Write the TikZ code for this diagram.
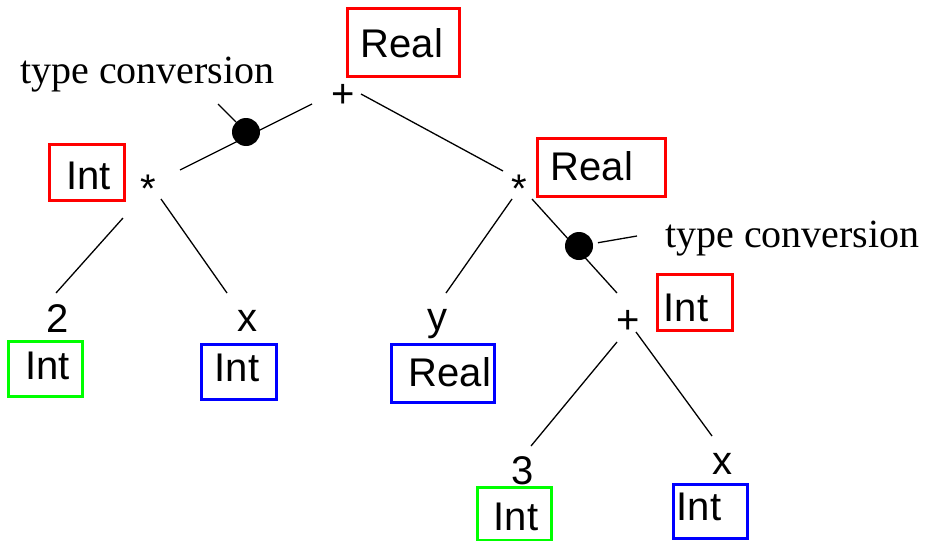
\documentclass[tikz,border=0pt]{standalone}
\usepackage{fontspec}
\setmainfont{Liberation Sans}
\newfontfamily\tmsfont{Liberation Serif}
\usetikzlibrary{calc}
\begin{document}
\begin{tikzpicture}[x=1pt,y=-1pt,
  lbl/.style={inner sep=0pt,font=\fontsize{40}{48}\selectfont},
  tc/.style={inner sep=0pt,font=\tmsfont\fontsize{40}{48}\selectfont,anchor=base west},
  tbox/.style={draw=#1,line width=3pt,inner sep=0pt},
  edge/.style={line width=1.3pt},
  dotc/.style={circle,fill=black,inner sep=0pt,minimum size=28pt}]
\useasboundingbox (0,0) rectangle (930,541);
\definecolor{tred}{RGB}{255,0,0}
\definecolor{tgreen}{RGB}{0,255,0}
\definecolor{tblue}{RGB}{0,0,255}

% type boxes
\node[tbox=tred,minimum width=112pt,minimum height=68pt] (rb1) at (403,42) {};
\node[tbox=tred,minimum width=75pt,minimum height=56pt] (rb2) at (86.5,172) {};
\node[tbox=tred,minimum width=128pt,minimum height=58pt] (rb3) at (601,167) {};
\node[tbox=tred,minimum width=75pt,minimum height=56pt] (rb4) at (694.5,302) {};
\node[tbox=tgreen,minimum width=74pt,minimum height=55pt] (gb1) at (45,368.5) {};
\node[tbox=tblue,minimum width=75pt,minimum height=55pt] (bb1) at (238.5,371.5) {};
\node[tbox=tblue,minimum width=103pt,minimum height=58pt] (bb2) at (442.5,373) {};
\node[tbox=tgreen,minimum width=74pt,minimum height=53pt] (gb2) at (514,513.5) {};
\node[tbox=tblue,minimum width=74pt,minimum height=54pt] (bb3) at (710,511) {};

\node[lbl] (trb1) at (402,43) {Real};
\node[lbl] (trb2) at (88.5,176) {Int};
\node[lbl] (trb3) at (592,166) {Real};
\node[lbl] (trb4) at (686,308) {Int};
\node[lbl] (tgb1) at (47.5,366) {Int};
\node[lbl] (tbb1) at (237,368) {Int};
\node[lbl] (tbb2) at (450,372) {Real};
\node[lbl] (tgb2) at (516,517) {Int};
\node[lbl] (tbb3) at (699,507) {Int};

% tree nodes
\node[lbl] (plus1) at (343,96) {+};
\node[lbl] (star1) at (148,189) {*};
\node[lbl] (star2) at (519,189) {*};
\node[lbl] (plus2) at (628,322) {+};
\node[lbl] (two) at (58,318.5) {2};
\node[lbl] (xa) at (247,321) {x};
\node[lbl] (yy) at (437,324) {y};
\node[lbl] (three) at (523,470.5) {3};
\node[lbl] (xb) at (722,464) {x};

% edges
\draw[edge] ($(plus1)+(-31,8)$) -- ($(star1)+(32,-19)$);
\draw[edge] ($(plus1)+(18,-2)$) -- ($(star2)+(-16,-18)$);
\draw[edge] ($(star1)+(-25,29)$) -- ($(two)+(-2,-25.5)$);
\draw[edge] ($(star1)+(13,10)$) -- ($(xa)+(-20,-28)$);
\draw[edge] ($(star2)+(-7,10)$) -- ($(yy)+(9,-31)$);
\draw[edge] ($(star2)+(13,10)$) -- ($(plus2)+(-11,-29)$);
\draw[edge] ($(plus2)+(-11,20)$) -- ($(three)+(8,-24.5)$);
\draw[edge] ($(plus2)+(8,10)$) -- ($(xb)+(-10,-28)$);

% type conversions
\node[dotc] (dot1) at (246,132) {};
\node[dotc] (dot2) at (579,246) {};
\node[tc] (tc1) at (20,83) {type conversion};
\node[tc] (tc2) at (665,247) {type conversion};
\coordinate (p1) at (218,104);
\coordinate (p2) at (637,236);
\draw[edge] (dot1) -- (p1);
\draw[edge,shorten <=5pt] (dot2) -- (p2);
\end{tikzpicture}
\end{document}
